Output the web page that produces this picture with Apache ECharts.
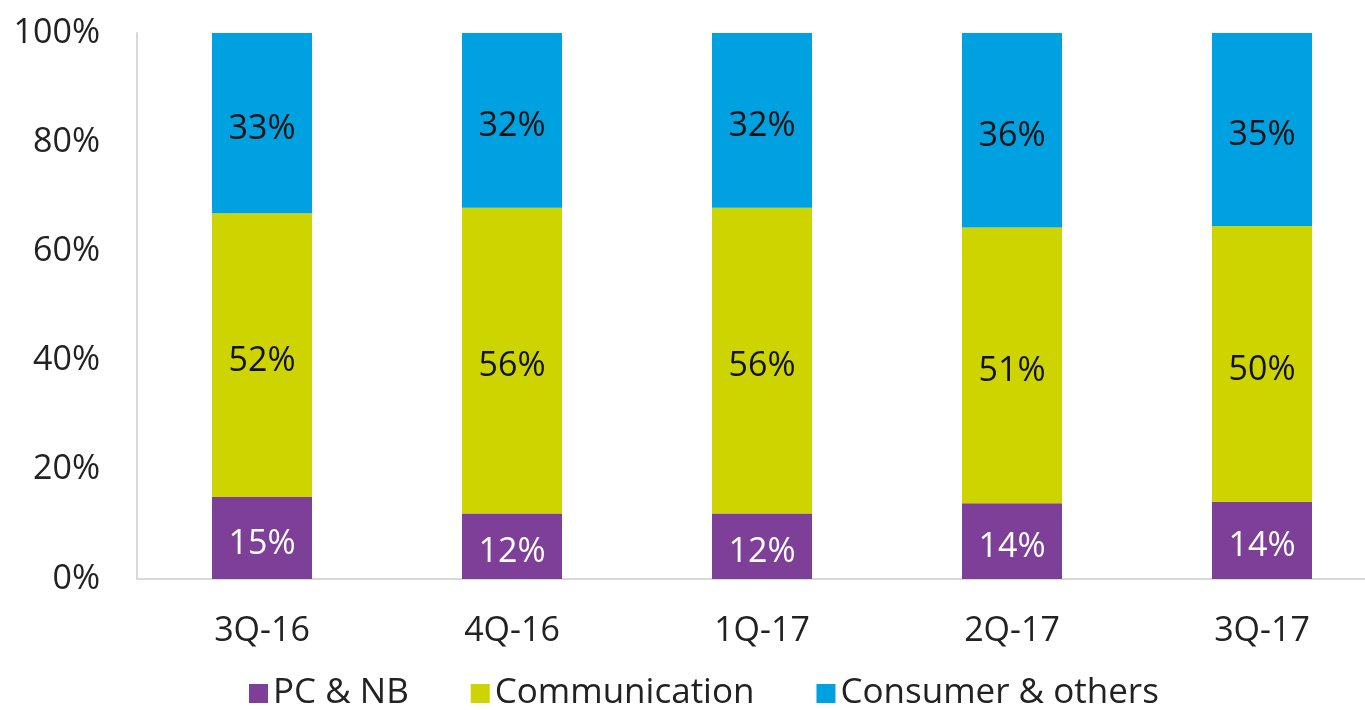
<!DOCTYPE html>
<html>
<head>
<meta charset="utf-8">
<script src="https://cdn.jsdelivr.net/npm/echarts@6/dist/echarts.min.js"></script>
<style>html,body{margin:0;padding:0;background:#fff}#c{width:1365px;height:710px}</style>
</head>
<body>
<div id="c"></div>
<script>
const categories = ['3Q-16', '4Q-16', '1Q-17', '2Q-17', '3Q-17'];
const pcNb = [15, 12, 12, 14, 14];
const communication = [52, 56, 56, 51, 50];
const consumer = [33, 32, 32, 36, 35];
const yTicks = [0, 20, 40, 60, 80, 100];

const totals = categories.map((_, i) => pcNb[i] + communication[i] + consumer[i]);
const share = arr => arr.map((v, i) => ({ value: v / totals[i] * 100, raw: v }));

const font = '"Open Sans", "Noto Sans", sans-serif';
const mk = (name, arr, color, labelColor) => ({
  name, type: 'bar', stack: 'total', barWidth: 100,
  data: share(arr),
  itemStyle: { color },
  label: { show: true, position: 'inside', offset: [0, 6], color: labelColor, fontSize: 34, fontFamily: font,
    formatter: p => p.data.raw + '%' }
});

const chart = echarts.init(document.getElementById('c'));
chart.setOption({
  animation: false,
  textStyle: { fontFamily: font },
  grid: { left: 137, right: -22, top: 33, bottom: 131, outerBoundsMode: 'none', containLabel: false },
  legend: {
    bottom: -6, left: 244, itemWidth: 19, itemHeight: 19, itemGap: 62,
    icon: 'rect',
    textStyle: { fontSize: 35, color: '#222', fontFamily: font },
    data: ['PC & NB', 'Communication', 'Consumer & others']
  },
  xAxis: {
    type: 'category', data: categories,
    axisLine: { lineStyle: { color: '#d9d9d9', width: 2 } },
    axisTick: { show: false },
    axisLabel: { fontSize: 34, color: '#222', margin: 35, fontFamily: font }
  },
  yAxis: {
    type: 'value', min: 0, max: 100, interval: 20,
    axisLine: { show: true, lineStyle: { color: '#d9d9d9', width: 2 } },
    splitLine: { show: false },
    axisTick: { show: false },
    axisLabel: { fontSize: 34, color: '#222', margin: 37, fontFamily: font,
      formatter: v => yTicks.includes(v) ? v + '%' : '' }
  },
  series: [
    mk('PC & NB', pcNb, '#7E3F98', '#ffffff'),
    mk('Communication', communication, '#CDD400', '#111111'),
    mk('Consumer & others', consumer, '#00A1E0', '#111111')
  ]
});
</script>
</body>
</html>
